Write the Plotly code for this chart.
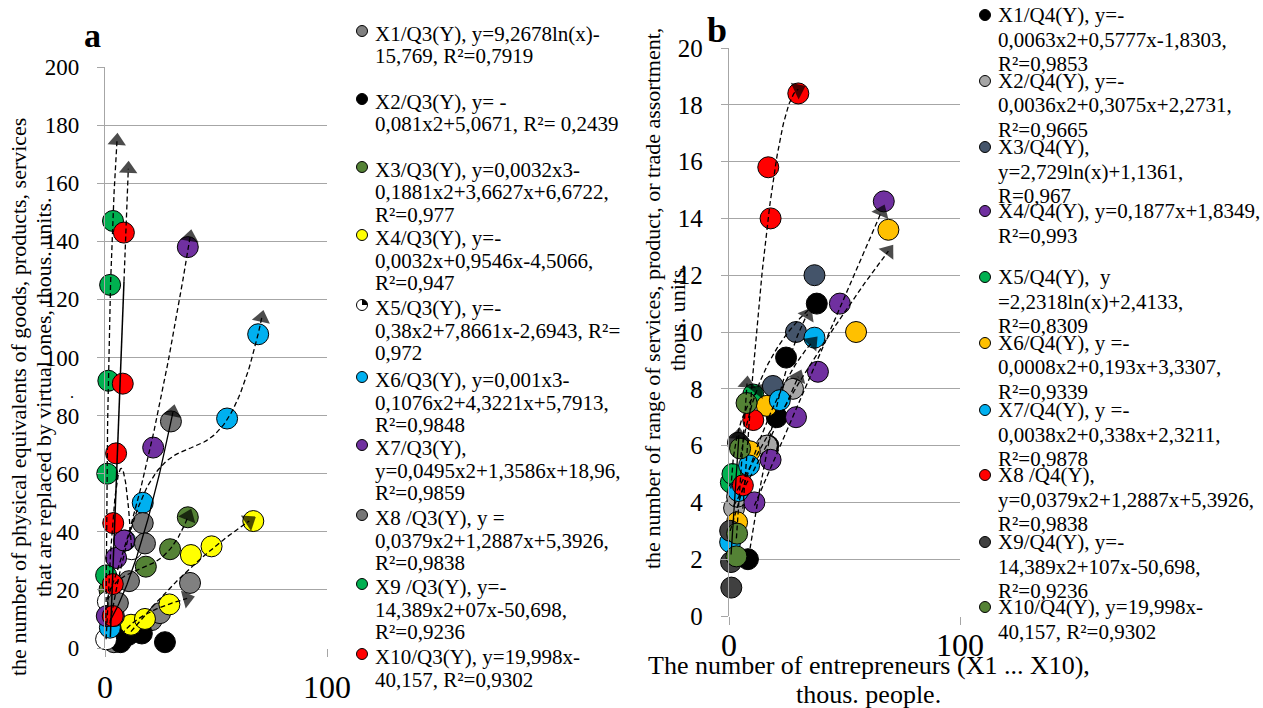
import numpy as np
import plotly.graph_objects as go

W, H = 1263, 708
FONT = "Liberation Serif, Times New Roman, DejaVu Serif, serif"

# ---------------- DATA: panel a (Q3) ----------------
q3_names = ["X1", "X2", "X3", "X4", "X5", "X6", "X7", "X8", "X9", "X10"]
q3_colors = ["#808080", "#000000", "#548235", "#FFFF00", "#FFFFFF",
             "#00B0F0", "#7030A0", "#767676", "#00B050", "#FF0000"]
q3_x = [
    [4, 8, 15, 21, 24.8, 38.3],
    [7, 10.5, 16.6, 27],
    [2, 18.4, 29.3, 37.3],
    [11.7, 18, 29, 38.7, 48, 66.8],
    [0.5, 1.3, 12],
    [2.2, 9, 17, 55, 69],
    [0.8, 5, 8.6, 21.7, 37.3],
    [4, 5.8, 10.8, 17, 18, 29.7],
    [0.5, 1, 1.5, 2.3, 3.6],
    [3.5, 3.5, 3.7, 5, 8, 8.5],
]
q3_y = [
    [2, 5, 8, 9.6, 12, 22.4],
    [2, 4.5, 5, 2],
    [20, 28, 34, 45],
    [8, 10, 15, 32, 35, 43.7],
    [3, 16, 34],
    [7, 37, 50, 79, 108],
    [11, 31, 37, 69, 138],
    [11, 15.5, 23, 43, 36, 78],
    [25, 60, 92, 125, 147],
    [11, 22, 43, 67, 91, 143],
]
# trend: kind, start x, end x (forecast), dash, arrow
q3_trend = [
    ("log", 4, 37, "dash", True),
    None,
    ("poly3", 2, 37.5, "dash", True),
    ("poly2", 11.7, 65, "dash", True),
    ("poly2", 0.5, 12, "dash", False),
    ("poly3", 2.2, 70.6, "dash", True),
    ("poly2", 0.8, 38.3, "dash", True),
    ("poly2", 2.3, 30.6, "solid", True),
    ("log", 0.4, 5.4, "dash", True),
    ("lin", 2.4, 10.5, "solid8.6", True),
]
q3_legend = [
    ["X1/Q3(Y), y=9,2678ln(x)-", "15,769, R²=0,7919"],
    ["X2/Q3(Y), y= -", "0,081x2+5,0671, R²= 0,2439"],
    ["X3/Q3(Y), y=0,0032x3-", "0,1881x2+3,6627x+6,6722,", "R²=0,977"],
    ["X4/Q3(Y), y=-", "0,0032x+0,9546x-4,5066,", "R²=0,947"],
    ["X5/Q3(Y), y=-", "0,38x2+7,8661x-2,6943, R²=", "0,972"],
    ["X6/Q3(Y), y=0,001x3-", "0,1076x2+4,3221x+5,7913,", "R²=0,9848"],
    ["X7/Q3(Y),", "y=0,0495x2+1,3586x+18,96,", "R²=0,9859"],
    ["X8 /Q3(Y), y =", "0,0379x2+1,2887x+5,3926,", "R²=0,9838"],
    ["X9 /Q3(Y), y=-", "14,389x2+07x-50,698,", "R²=0,9236"],
    ["X10/Q3(Y), y=19,998x-", "40,157, R²=0,9302"],
]

# ---------------- DATA: panel b (Q4) ----------------
q4_names = ["X1", "X2", "X3", "X4", "X5", "X6", "X7", "X8", "X9", "X10"]
q4_colors = ["#000000", "#A6A6A6", "#44546A", "#7030A0", "#00B050",
             "#FFC000", "#00B0F0", "#FF0000", "#404040", "#548235"]
q4_x = [
    [8.2, 17, 20.7, 24.7, 38],
    [2.2, 3.5, 16.4, 27.7],
    [5, 19, 29, 37],
    [11, 18, 29, 38.5, 48, 67],
    [0.8, 1.5, 10.5],
    [3.5, 9, 16.4, 55, 69],
    [0.5, 4, 8.7, 22, 37],
    [6, 10.5, 17, 18, 30],
    [0.5, 0.9, 1.0, 3.9],
    [3.2, 3.5, 4.8, 7.6],
]
q4_y = [
    [2, 6, 7, 9.1, 11],
    [3.8, 4.2, 6, 8],
    [6, 8.1, 10, 12],
    [4, 5.5, 7, 8.6, 11, 14.6],
    [4.7, 5.0, 7.8],
    [3.3, 5.8, 7.4, 10, 13.6],
    [2.6, 4.4, 5.3, 7.6, 9.8],
    [4.6, 6.9, 15.8, 14, 18.4],
    [3.0, 1.9, 1.0, 6.1],
    [2.1, 2.9, 5.9, 7.5],
]
q4_trend = [
    ("poly2", 8, 34, "dash", True),
    ("poly2", 2, 30, "dash", True),
    ("log", 5, 37, "dash", False),
    ("lin", 11, 66, "dash", True),
    ("log", 0.8, 12.5, "dash", True),
    ("poly2", 3.5, 69, "dash", True),
    ("poly2", 0.5, 36, "dash", True),
    ("poly2", 6, 30, "dash", True),
    ("lin", 0.9, 4.3, "solid", True),
    ("lin", 3.2, 7.8, "dash", True),
]
q4_legend = [
    ["X1/Q4(Y), y=-", "0,0063x2+0,5777x-1,8303,", "R²=0,9853"],
    ["X2/Q4(Y), y=-", "0,0036x2+0,3075x+2,2731,", "R²=0,9665"],
    ["X3/Q4(Y),", "y=2,729ln(x)+1,1361,", "R=0,967"],
    ["X4/Q4(Y), y=0,1877x+1,8349,", "R²=0,993"],
    ["X5/Q4(Y),  y", "=2,2318ln(x)+2,4133,", "R²=0,8309"],
    ["X6/Q4(Y), y =-", "0,0008x2+0,193x+3,3307,", "R²=0,9339"],
    ["X7/Q4(Y), y =-", "0,0038x2+0,338x+2,3211,", "R²=0,9878"],
    ["X8 /Q4(Y),", "y=0,0379x2+1,2887x+5,3926,", "R²=0,9838"],
    ["X9/Q4(Y), y=-", "14,389x2+107x-50,698,", "R²=0,9236"],
    ["X10/Q4(Y), y=19,998x-", "40,157, R²=0,9302"],
]

left_ticks_y = [0, 20, 40, 60, 80, 100, 120, 140, 160, 180, 200]
right_ticks_y = [0, 2, 4, 6, 8, 10, 12, 14, 16, 18, 20]
ticks_x = [0, 100]

# ---------------- layout constants (pixels) ----------------
L_X0, L_X1, L_YT, L_YB = 105, 327, 67, 648
R_X0, R_X1, R_YT, R_YB = 729, 960, 48, 616


def px(x):
    return x / W


def py(y):
    return 1 - y / H


def fit(x, y, kind, x0, x1, n=80):
    x = np.asarray(x, float)
    y = np.asarray(y, float)
    xs = np.linspace(x0, x1, n)
    if kind == "lin":
        ys = np.polyval(np.polyfit(x, y, 1), xs)
    elif kind == "poly2":
        ys = np.polyval(np.polyfit(x, y, 2), xs)
    elif kind == "poly3":
        ys = np.polyval(np.polyfit(x, y, 3), xs)
    else:
        c = np.polyfit(np.log(x), y, 1)
        ys = c[0] * np.log(xs) + c[1]
    return xs, ys


fig = go.Figure()


def add_panel(xs_all, ys_all, colors, trends, xa, ya):
    for xv, yv, col in zip(xs_all, ys_all, colors):
        fig.add_trace(go.Scatter(
            x=xv, y=yv, mode="markers", xaxis=xa, yaxis=ya,
            marker=dict(size=21, color=col, line=dict(color="#000000", width=1)),
            cliponaxis=False, showlegend=False, hoverinfo="x+y"))
    for xv, yv, tr in zip(xs_all, ys_all, trends):
        if tr is None:
            continue
        kind, x0, x1, dash, arrow = tr
        tx, ty = fit(xv, yv, kind, x0, x1)
        if dash.startswith("solid") and len(dash) > 5:
            split = float(dash[5:])
            m = tx <= split
            fig.add_trace(go.Scatter(
                x=tx[m], y=ty[m], mode="lines", xaxis=xa, yaxis=ya,
                line=dict(color="#000000", width=1.5),
                cliponaxis=False, showlegend=False, hoverinfo="skip"))
            tx2, ty2 = tx[~m], ty[~m]
            tx2 = np.concatenate([[tx[m][-1]], tx2])
            ty2 = np.concatenate([[ty[m][-1]], ty2])
            tx, ty, dstyle = tx2, ty2, "5px,3px"
        else:
            dstyle = "solid" if dash == "solid" else "5px,3px"
        sizes = [0] * (len(tx) - 1) + [16 if arrow else 0]
        fig.add_trace(go.Scatter(
            x=tx, y=ty, mode="lines+markers", xaxis=xa, yaxis=ya,
            line=dict(color="#000000", width=1.3, dash=dstyle),
            marker=dict(symbol="triangle-up", size=sizes, color="#000000",
                        angleref="previous", line=dict(width=0)),
            cliponaxis=False, showlegend=False, hoverinfo="skip"))


add_panel(q3_x, q3_y, q3_colors, q3_trend, "x", "y")
add_panel(q4_x, q4_y, q4_colors, q4_trend, "x2", "y2")

GRID = "#A6A6A6"
ax_common = dict(showgrid=False, zeroline=False, showline=False, ticks="outside",
                 ticklen=8, tickcolor=GRID, tickwidth=1.3, automargin=False)
ay_common = dict(showgrid=True, gridcolor=GRID, gridwidth=1.3,
                 zeroline=False, showline=True, linecolor=GRID, linewidth=1.3,
                 ticks="outside", ticklen=7, tickcolor=GRID, tickwidth=1.3,
                 automargin=False, ticklabelstandoff=13)
fig.update_layout(
    template="none",
    width=W, height=H, margin=dict(l=0, r=0, t=0, b=0, pad=0),
    paper_bgcolor="white", plot_bgcolor="white",
    font=dict(family=FONT, color="#000000"),
    xaxis=dict(domain=[px(L_X0), px(L_X1)], range=[0, 100], anchor="y",
               tickvals=ticks_x, tickfont=dict(size=32, family=FONT, color="#000000"),
               ticklabelstandoff=3, **ax_common),
    yaxis=dict(domain=[py(L_YB), py(L_YT)], range=[0, 200], anchor="x",
               tickvals=left_ticks_y, tickfont=dict(size=23, family=FONT, color="#000000"),
               **ay_common),
    xaxis2=dict(domain=[px(R_X0), px(R_X1)], range=[0, 100], anchor="y2",
                tickvals=ticks_x, tickfont=dict(size=32, family=FONT, color="#000000"),
                ticklabelstandoff=-7, **ax_common),
    yaxis2=dict(domain=[py(R_YB), py(R_YT)], range=[0, 20], anchor="x2",
                tickvals=right_ticks_y, tickfont=dict(size=25, family=FONT, color="#000000"),
                **ay_common),
    showlegend=False,
)

ann = []
shapes = []


def text(x, y, s, size, angle=0, bold=False, xanchor="center"):
    ann.append(dict(x=px(x), y=py(y), xref="paper", yref="paper", text=s,
                    showarrow=False, textangle=angle, xanchor=xanchor, yanchor="middle",
                    font=dict(size=size, family=FONT, color="#000000",
                              weight="bold" if bold else "normal")))


# panel labels
text(92, 36, "a", 34, bold=True)
text(717, 30, "b", 36, bold=True)

# axis titles
text(18, 397, "the number of physical equivalents of goods, products, services", 22, angle=-90)
text(43, 397, "that are replaced by virtual ones, thous. units.", 22, angle=-90)
text(72, 392, ".", 16)
text(652, 299, "the number of range of services, product, or trade assortment,", 22, angle=-90)
text(677, 318, "thous. units.", 22, angle=-90)
text(869, 665, "The number of entrepreneurs (X1 ... X10),", 26)
text(868, 694, "thous. people.", 26)

# legends
left_first = [34, 102, 170, 238, 308, 380, 448, 518, 587, 657]
right_first = [15, 81, 147, 211, 277, 343, 410, 475, 542, 607]


def legend(lines_all, colors, firsts, tx, mx, step, mdy, pie_idx=None):
    for i, (lines, col, y0) in enumerate(zip(lines_all, colors, firsts)):
        for k, ln in enumerate(lines):
            text(tx, y0 + k * step, ln, 21, xanchor="left")
        cy = y0 + mdy
        r = 5.5
        shapes.append(dict(type="circle", xref="paper", yref="paper",
                           x0=px(mx - r), x1=px(mx + r), y0=py(cy + r), y1=py(cy - r),
                           fillcolor=col, line=dict(color="#000000", width=1)))
        if pie_idx is not None and i == pie_idx:
            pts = [(mx, cy), (mx, cy - r)]
            for a in np.linspace(-90, 0, 8):
                pts.append((mx + r * np.cos(np.radians(a)), cy + r * np.sin(np.radians(a))))
            path = "M " + " L ".join(f"{px(a):.5f},{py(b):.5f}" for a, b in pts) + " Z"
            shapes.append(dict(type="path", xref="paper", yref="paper", path=path,
                               fillcolor="#000000", line=dict(width=0)))


legend(q3_legend, q3_colors, left_first, 373, 362, 22.5, -3, pie_idx=4)
legend(q4_legend, q4_colors, right_first, 996, 985, 24.5, 0)

fig.update_layout(annotations=ann, shapes=shapes)
fig.write_html(
    "out.html",
    config={"displayModeBar": False},
    post_script="document.body.style.margin='0';document.body.style.overflow='hidden';",
)
